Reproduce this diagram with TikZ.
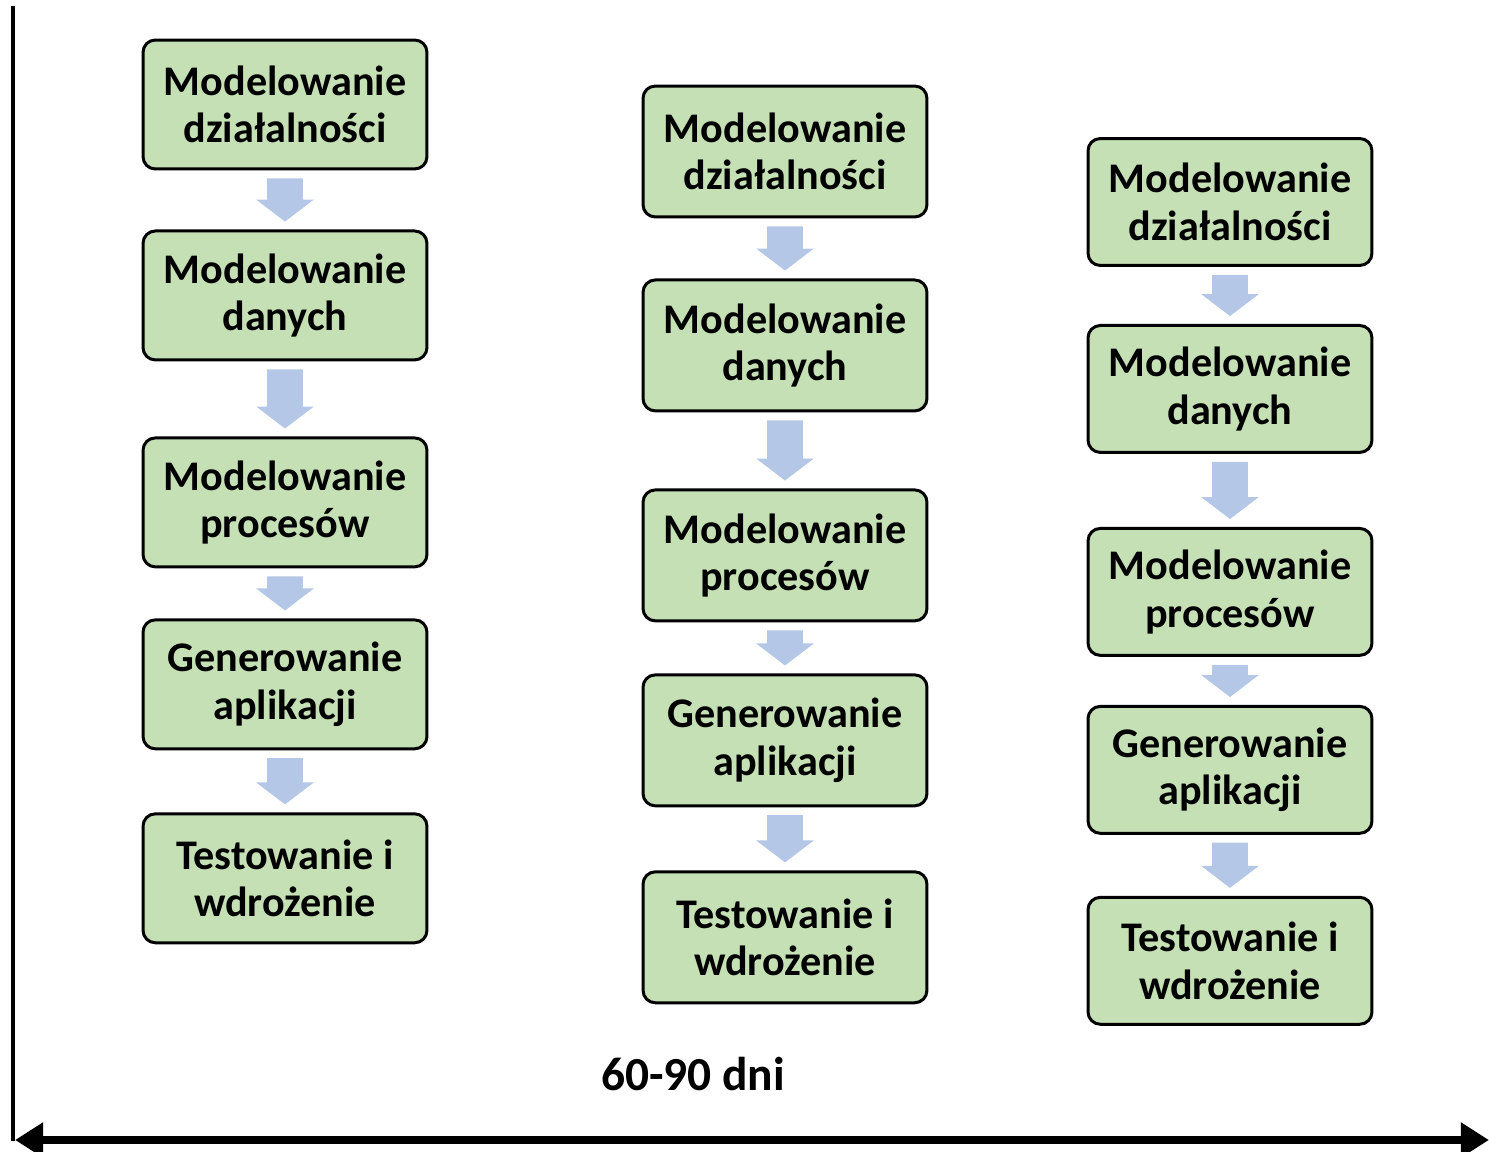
\documentclass[tikz,border=0pt]{standalone}
\usepackage{fontspec}
\setmainfont{Carlito}
\usepackage{xcolor}
\usetikzlibrary{arrows.meta,positioning,calc}
\definecolor{stepgreen}{HTML}{C5E0B4}
\definecolor{arrblue}{HTML}{B4C7E7}
\tikzset{
  stepbox/.style={draw=black, line width=1.7pt, fill=stepgreen, rounded corners=7pt, align=center, font=\fontsize{24}{27}\selectfont\bfseries, inner sep=2pt, minimum height=2.58cm, minimum width=5.68cm},
  flowarr/.style={fill=arrblue},
  timearr/.style={line width=4.5pt, {Triangle[length=16pt,width=19pt]}-{Triangle[length=16pt,width=19pt]}}
}
\newcommand{\blockarrow}[2]{%
  \fill[flowarr] let \p1=($(#1.south)+(0,-4.5pt)$), \p2=($(#2.north)+(0,4.5pt)$) in
    ({\x1-10.2pt},\y1) -- ({\x1+10.2pt},\y1) -- ({\x1+10.2pt},{\y2+12.5pt}) -- ({\x1+16.4pt},{\y2+12.5pt})
    -- (\x1,\y2) -- ({\x1-16.4pt},{\y2+12.5pt}) -- ({\x1-10.2pt},{\y2+12.5pt}) -- cycle;}

\begin{document}
\begin{tikzpicture}[x=0.02cm, y=-0.02cm]
\useasboundingbox (0,0) rectangle (1489,1152);
\node[stepbox] (a1) at (285,104.5) {Modelowanie\\działalności};
\node[stepbox, below=1.18cm of a1] (a2) {Modelowanie\\danych};
\node[stepbox, below=1.50cm of a2] (a3) {Modelowanie\\procesów};
\node[stepbox, below=1.00cm of a3] (a4) {Generowanie\\aplikacji};
\node[stepbox, below=1.24cm of a4] (a5) {Testowanie i\\wdrożenie};
\node[stepbox, minimum height=2.62cm] (b1) at (785,151.5) {Modelowanie\\działalności};
\node[stepbox, minimum height=2.62cm, below=1.20cm of b1] (b2) {Modelowanie\\danych};
\node[stepbox, minimum height=2.62cm, below=1.52cm of b2] (b3) {Modelowanie\\procesów};
\node[stepbox, minimum height=2.62cm, below=1.02cm of b3] (b4) {Generowanie\\aplikacji};
\node[stepbox, minimum height=2.62cm, below=1.26cm of b4] (b5) {Testowanie i\\wdrożenie};
\node[stepbox, minimum height=2.54cm] (c1) at (1230,202) {Modelowanie\\działalności};
\node[stepbox, minimum height=2.54cm, below=1.14cm of c1] (c2) {Modelowanie\\danych};
\node[stepbox, minimum height=2.54cm, below=1.46cm of c2] (c3) {Modelowanie\\procesów};
\node[stepbox, minimum height=2.54cm, below=0.96cm of c3] (c4) {Generowanie\\aplikacji};
\node[stepbox, minimum height=2.54cm, below=1.22cm of c4] (c5) {Testowanie i\\wdrożenie};
\blockarrow{a1}{a2}
\blockarrow{a2}{a3}
\blockarrow{a3}{a4}
\blockarrow{a4}{a5}
\blockarrow{b1}{b2}
\blockarrow{b2}{b3}
\blockarrow{b3}{b4}
\blockarrow{b4}{b5}
\blockarrow{c1}{c2}
\blockarrow{c2}{c3}
\blockarrow{c3}{c4}
\blockarrow{c4}{c5}
\node[font=\fontsize{27}{30}\selectfont\bfseries] (czas) at (693,1074) {60-90 dni};
\coordinate (top) at (13,6);
\coordinate (corner) at (13,1141);
\coordinate (start) at (15,1140);
\coordinate (end) at (1489,1140);
\draw[line width=2.8pt] (top) -- (corner);
\draw[timearr] (start) -- (end);
\end{tikzpicture}
\end{document}
